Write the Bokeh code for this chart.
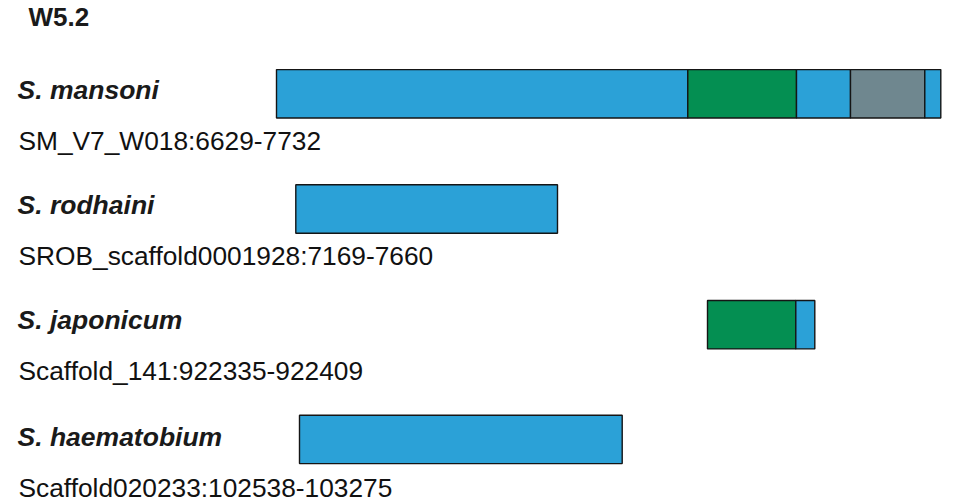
from bokeh.plotting import figure
from bokeh.models import Range1d, ColumnDataSource
from bokeh.core.properties import value
from bokeh.embed import file_html
from bokeh.resources import INLINE

# ---------------- data ----------------
title = "W5.2"
species = ["S. mansoni", "S. rodhaini", "S. japonicum", "S. haematobium"]
loci = ["SM_V7_W018:6629-7732", "SROB_scaffold0001928:7169-7660",
        "Scaffold_141:922335-922409", "Scaffold020233:102538-103275"]

# aligned segments (alignment units, mansoni start = 0)
seg_row = [0, 0, 0, 0, 0, 1, 2, 2, 3]
seg_start = [0, 411.3, 520, 574, 648.3, 19.3, 431, 519.3, 23]
seg_end = [411.3, 520, 574, 648.3, 664.3, 281, 519.3, 538.3, 345.7]
seg_kind = ["a", "b", "a", "c", "a", "a", "b", "a", "a"]

# ---------------- styling / layout ----------------
kind_color = {"a": "#2BA1D7", "b": "#048F52", "c": "#6F878F"}
row_center = [93.3, 208.5, 324.2, 438.9]
bar_half = 24.2
name_mid = [89, 204, 319, 436]
locus_mid = [140, 255, 370.5, 487]
W, H = 964, 504
x0 = 276  # canvas x of alignment origin

p = figure(width=W, height=H, output_backend="svg", toolbar_location=None,
           x_range=Range1d(-x0, W - x0), y_range=Range1d(H, 0),
           x_axis_type=None, y_axis_type=None, min_border=0)
p.outline_line_color = None
p.xgrid.visible = False
p.ygrid.visible = False
p.background_fill_color = "white"
p.border_fill_color = "white"

seg_src = ColumnDataSource(dict(
    left=seg_start, right=seg_end,
    top=[row_center[r] - bar_half for r in seg_row],
    bottom=[row_center[r] + bar_half for r in seg_row],
    color=[kind_color[k] for k in seg_kind],
))
p.quad(left="left", right="right", top="top", bottom="bottom", source=seg_src,
       fill_color="color", line_color="#151515", line_width=1.4)

font = value("Liberation Sans")
p.text(x=[28 - x0], y=[16.5], text=[title], text_font=font, text_font_size="26px",
       text_font_style="bold", text_color="#1a1a1a", text_baseline="middle")
p.text(x=[17 - x0] * len(species), y=name_mid, text=species, text_font=font,
       text_font_size="26.5px", text_font_style="bold italic", text_color="#1a1a1a",
       text_baseline="middle")
p.text(x=[18 - x0] * len(loci), y=locus_mid, text=loci, text_font=font,
       text_font_size="26.3px", text_color="#111111", text_baseline="middle")

open("out.html", "w").write(file_html(p, INLINE))
